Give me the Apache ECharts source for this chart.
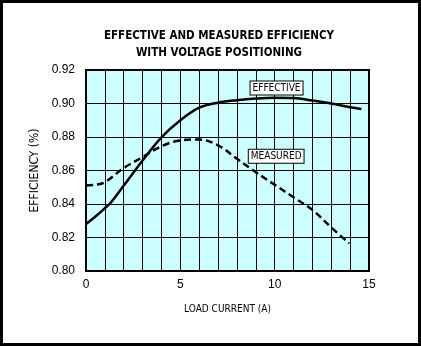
<!DOCTYPE html>
<html>
<head>
<meta charset="utf-8">
<style>
html,body{margin:0;padding:0;background:#fff;}
#chart{width:421px;height:346px;}
</style>
<script src="https://cdn.jsdelivr.net/npm/echarts@6/dist/echarts.min.js"></script>
</head>
<body>
<div id="chart"></div>
<script>
// Data
const effectiveX = [0, 0.5, 1, 1.25, 2, 3, 4, 5, 6, 7, 8, 9, 10, 11, 12, 13, 14, 14.6];
const effectiveY = [0.828, 0.8325, 0.8375, 0.840, 0.851, 0.866, 0.8798, 0.890, 0.8975, 0.9005, 0.902, 0.903, 0.9035, 0.9033, 0.9018, 0.900, 0.8978, 0.8967];
const measuredX = [0, 0.5, 1, 2, 3, 4, 5, 6, 7, 8, 9, 10, 11, 12, 13, 13.95];
const measuredY = [0.851, 0.8515, 0.853, 0.8615, 0.868, 0.8745, 0.878, 0.8785, 0.875, 0.867, 0.859, 0.8515, 0.844, 0.8365, 0.826, 0.8165];
const xLabels = [0, 5, 10, 15];
const yTicks = [0.80, 0.82, 0.84, 0.86, 0.88, 0.90, 0.92];
const titleLines = ['EFFECTIVE AND MEASURED EFFICIENCY', 'WITH VOLTAGE POSITIONING'];
const seriesNames = ['EFFECTIVE', 'MEASURED'];

const narrow = '"DejaVu Sans Condensed", "Liberation Sans Narrow", sans-serif';
const chart = echarts.init(document.getElementById('chart'), null, {renderer: 'canvas'});

chart.setOption({
  animation: false,
  backgroundColor: '#fff',
  title: {
    text: titleLines.join('\n'),
    left: 214,
    top: 23,
    textAlign: 'center',
    textStyle: {fontFamily: narrow, fontWeight: 'bold', fontSize: 11.5, lineHeight: 17, color: '#000'}
  },
  graphic: [{
    type: 'rect',
    shape: {x: 1.5, y: 1.5, width: 418, height: 343},
    style: {fill: 'none', stroke: '#000', lineWidth: 3},
    silent: true, z: 100
  }],
  grid: {
    left: 86, top: 70, width: 283, height: 201,
    show: true, backgroundColor: '#ccffff', borderColor: '#000', borderWidth: 2
  },
  xAxis: {
    type: 'value', min: 0, max: 15, interval: 1,
    name: 'LOAD CURRENT (A)', nameLocation: 'middle', nameGap: 33,
    nameTextStyle: {fontFamily: narrow, fontSize: 10, color: '#000'},
    axisLine: {show: false}, axisTick: {show: false},
    splitLine: {show: true, lineStyle: {color: '#000', width: 1}},
    axisLabel: {
      margin: 8, color: '#000', fontFamily: 'Liberation Sans, Arial, sans-serif', fontSize: 12,
      formatter: v => xLabels.indexOf(v) >= 0 ? String(v) : ''
    }
  },
  yAxis: {
    type: 'value', min: 0.80, max: 0.92, interval: 0.02,
    name: 'EFFICIENCY (%)', nameLocation: 'middle', nameGap: 45,
    nameTextStyle: {fontFamily: narrow, fontSize: 12, color: '#000'},
    axisLine: {show: false}, axisTick: {show: false},
    splitLine: {show: true, lineStyle: {color: '#000', width: 1}},
    axisLabel: {
      margin: 11, color: '#000', fontFamily: 'Liberation Sans, Arial, sans-serif', fontSize: 12,
      formatter: v => {
        const s = v.toFixed(2);
        return yTicks.some(t => t.toFixed(2) === s) ? s : '';
      }
    }
  },
  series: [{
    name: seriesNames[0], type: 'line', smooth: 0.35, symbol: 'none',
    data: effectiveX.map((x, i) => [x, effectiveY[i]]),
    lineStyle: {color: '#000', width: 2.5},
    z: 5,
    markPoint: {
      symbol: 'rect', symbolSize: 1, itemStyle: {color: 'rgba(0,0,0,0)'},
      data: [{coord: [10.1, 0.9093], value: seriesNames[0]}],
      label: {show: true, position: 'inside', formatter: seriesNames[0], color: '#000',
        fontFamily: narrow, fontSize: 10, backgroundColor: '#fff', borderColor: '#000', borderWidth: 1,
        padding: [2, 2, 1, 2]}
    }
  }, {
    name: seriesNames[1], type: 'line', smooth: 0.35, symbol: 'none',
    data: measuredX.map((x, i) => [x, measuredY[i]]),
    lineStyle: {color: '#000', width: 2.5, type: [7, 4]},
    z: 5,
    markPoint: {
      symbol: 'rect', symbolSize: 1, itemStyle: {color: 'rgba(0,0,0,0)'},
      data: [{coord: [10.08, 0.8685], value: seriesNames[1]}],
      label: {show: true, position: 'inside', formatter: seriesNames[1], color: '#000',
        fontFamily: narrow, fontSize: 10, backgroundColor: '#fff', borderColor: '#000', borderWidth: 1,
        padding: [2, 2, 1, 2]}
    }
  }]
});
</script>
</body>
</html>
